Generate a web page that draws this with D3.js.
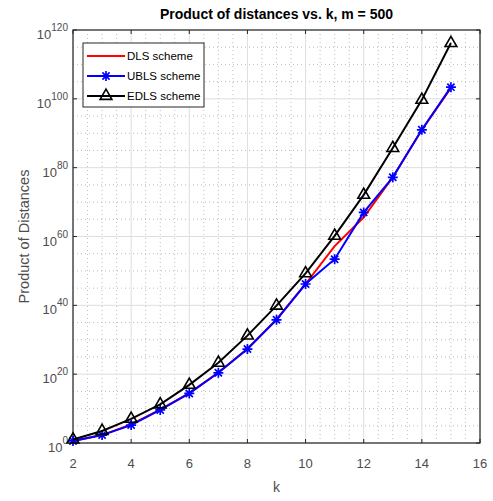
<!DOCTYPE html>
<html>
<head>
<meta charset="utf-8">
<script src="https://cdn.jsdelivr.net/npm/d3@7"></script>
<style>
  body { margin: 0; background: #fff; }
  svg { display: block; font-family: "Liberation Sans", Arial, sans-serif; }
</style>
</head>
<body>
<div id="chart"></div>
<script>
// k values and log10 of product of distances per scheme
const kValues = [2, 3, 4, 5, 6, 7, 8, 9, 10, 11, 12, 13, 14, 15];
const dlsExp  = [0.6, 2.3, 5.4, 9.7, 14.5, 20.5, 27.4, 35.9, 46.2, 57.2, 65.6, 77.2, 91.0, 103.2];
const ublsExp = [0.6, 2.3, 5.2, 9.6, 14.4, 20.4, 27.3, 35.8, 46.2, 53.4, 67.0, 77.2, 91.0, 103.4];
const edlsExp = [1.0, 3.5, 7.0, 11.2, 16.9, 23.3, 31.2, 39.9, 49.3, 60.2, 72.1, 85.7, 99.7, 116.2];
const seriesNames = ["DLS scheme", "UBLS scheme", "EDLS scheme"];
const xTicks = [2, 4, 6, 8, 10, 12, 14, 16];
const yTickExp = [0, 20, 40, 60, 80, 100, 120];

const W = 493, H = 501;
const margin = { top: 30, right: 13, bottom: 58, left: 73 };
const width = W - margin.left - margin.right,
  height = H - margin.top - margin.bottom;

const svg = d3.select("#chart").append("svg")
  .attr("width", W).attr("height", H);

const g = svg.append("g")
  .attr("transform", `translate(${margin.left},${margin.top})`);

const x = d3.scaleLinear().domain([2, 16]).range([0, width]);
const y = d3.scaleLog().domain([1, 1e120]).range([height, 0]);

// minor dotted grid
const minorX = d3.range(2, 16.01, 0.5).filter(v => v % 2 !== 0);
const minorY = d3.range(0, 120.01, 5).filter(v => v % 20 !== 0);
g.append("g").selectAll("line").data(minorX).join("line")
  .attr("x1", d => x(d)).attr("x2", d => x(d))
  .attr("y1", 0).attr("y2", height)
  .attr("stroke", "#bdbdbd").attr("stroke-dasharray", "1,3");
g.append("g").selectAll("line").data(minorY).join("line")
  .attr("y1", d => y(10 ** d)).attr("y2", d => y(10 ** d))
  .attr("x1", 0).attr("x2", width)
  .attr("stroke", "#bdbdbd").attr("stroke-dasharray", "1,3");

// major grid
g.append("g").selectAll("line").data(xTicks).join("line")
  .attr("x1", d => x(d)).attr("x2", d => x(d))
  .attr("y1", 0).attr("y2", height)
  .attr("stroke", "#dedede").attr("stroke-width", 1);
g.append("g").selectAll("line").data(yTickExp).join("line")
  .attr("y1", d => y(10 ** d)).attr("y2", d => y(10 ** d))
  .attr("x1", 0).attr("x2", width)
  .attr("stroke", "#dedede").attr("stroke-width", 1);

// box with inward ticks
g.append("rect").attr("width", width).attr("height", height)
  .attr("fill", "none").attr("stroke", "#262626").attr("stroke-width", 1.2);
const tl = 4;
g.append("g").selectAll("line").data(xTicks).join("line")
  .attr("x1", d => x(d)).attr("x2", d => x(d)).attr("y1", height).attr("y2", height - tl)
  .attr("stroke", "#262626");
g.append("g").selectAll("line").data(xTicks).join("line")
  .attr("x1", d => x(d)).attr("x2", d => x(d)).attr("y1", 0).attr("y2", tl)
  .attr("stroke", "#262626");
g.append("g").selectAll("line").data(yTickExp).join("line")
  .attr("y1", d => y(10 ** d)).attr("y2", d => y(10 ** d)).attr("x1", 0).attr("x2", tl)
  .attr("stroke", "#262626");
g.append("g").selectAll("line").data(yTickExp).join("line")
  .attr("y1", d => y(10 ** d)).attr("y2", d => y(10 ** d)).attr("x1", width).attr("x2", width - tl)
  .attr("stroke", "#262626");

// tick labels
g.append("g").selectAll("text").data(xTicks).join("text")
  .attr("x", d => x(d)).attr("y", height + 25)
  .attr("text-anchor", "middle").attr("font-size", 13).attr("fill", "#4d4d4d")
  .text(d => d);

const yl = g.append("g").selectAll("text").data(yTickExp).join("text")
  .attr("x", -5).attr("y", d => y(10 ** d) + 9)
  .attr("text-anchor", "end").attr("font-size", 13).attr("fill", "#4d4d4d");
yl.append("tspan").text("10");
yl.append("tspan").attr("dy", -8).attr("font-size", 10).text(d => d);

// axis labels
g.append("text")
  .attr("x", width / 2).attr("y", height + 49)
  .attr("text-anchor", "middle").attr("font-size", 14).attr("fill", "#4d4d4d")
  .text("k");
g.append("text")
  .attr("transform", `translate(-44,${height / 2}) rotate(-90)`)
  .attr("text-anchor", "middle").attr("font-size", 14.5).attr("fill", "#4d4d4d")
  .text("Product of Distances");

svg.append("text")
  .attr("x", margin.left + width / 2).attr("y", 19)
  .attr("text-anchor", "middle").attr("font-size", 14).attr("font-weight", "bold")
  .attr("fill", "#000")
  .text("Product of distances vs. k, m = 500");

// series
const line = d3.line().x(d => x(d.k)).y(d => y(10 ** d.e));
const toPts = arr => kValues.map((k, i) => ({ k: k, e: arr[i] }));
const series = [
  { name: seriesNames[0], pts: toPts(dlsExp), color: "#ff0000", marker: null },
  { name: seriesNames[1], pts: toPts(ublsExp), color: "#0000ff", marker: "star" },
  { name: seriesNames[2], pts: toPts(edlsExp), color: "#000000", marker: "tri" }
];

const starPath = r => {
  const d = r * 0.72;
  return `M0,${-r}L0,${r}M${-r},0L${r},0M${-d},${-d}L${d},${d}M${-d},${d}L${d},${-d}`;
};
const triPath = d3.symbol().type(d3.symbolTriangle).size(60)();

function drawMarker(sel, s) {
  if (s.marker === "star") {
    sel.append("path").attr("d", starPath(5))
      .attr("stroke", s.color).attr("stroke-width", 1.7).attr("fill", "none");
  } else if (s.marker === "tri") {
    sel.append("path").attr("d", triPath)
      .attr("stroke", s.color).attr("stroke-width", 1.6).attr("fill", "none");
  }
}

series.forEach(s => {
  g.append("path").datum(s.pts)
    .attr("d", line).attr("fill", "none")
    .attr("stroke", s.color).attr("stroke-width", 2);
  if (s.marker) {
    g.append("g").selectAll("g").data(s.pts).join("g")
      .attr("transform", d => `translate(${x(d.k)},${y(10 ** d.e)})`)
      .each(function () { drawMarker(d3.select(this), s); });
  }
});

// legend
const lg = g.append("g").attr("transform", "translate(10,13)");
lg.append("rect").attr("width", 121).attr("height", 64)
  .attr("fill", "#fff").attr("stroke", "#262626").attr("stroke-width", 1);
series.forEach((s, i) => {
  const row = lg.append("g").attr("transform", `translate(0,${13 + i * 20})`);
  row.append("line").attr("x1", 4).attr("x2", 42).attr("y1", 0).attr("y2", 0)
    .attr("stroke", s.color).attr("stroke-width", 2);
  const m = row.append("g").attr("transform", "translate(23,0)");
  drawMarker(m, s);
  row.append("text").attr("x", 44).attr("y", 4)
    .attr("font-size", 11.5).attr("fill", "#000").text(s.name);
});
</script>
</body>
</html>
